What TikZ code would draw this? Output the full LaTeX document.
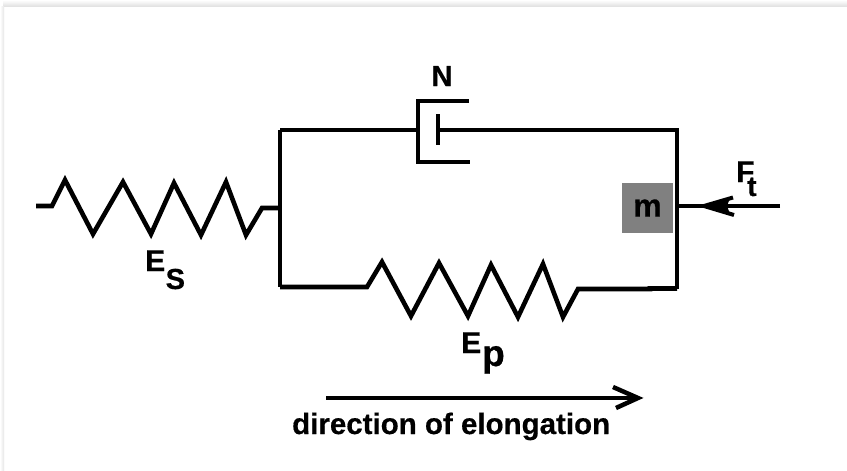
\documentclass[tikz,border=0pt]{standalone}
\usepackage{fontspec}
\setmainfont{Liberation Sans}[BoldFeatures={FakeBold=0.5}]
\newcommand{\fs}[1]{\fontsize{#1}{#1}\selectfont\bfseries}
\tikzset{
  wire/.style={line width=4pt,line join=miter,line cap=butt,black},
  coil/.style={line width=4.6pt,line join=miter,line cap=butt,black},
  lab/.style={inner sep=0pt,anchor=base west,text=black},
}
\begin{document}
\begin{tikzpicture}[x=1pt,y=-1pt]
\useasboundingbox (0,0) rectangle (847,471);
% page edge
\fill[white] (0,0) rectangle (847,471);
\shade[top color=white,bottom color=black!12,draw=none] (3,0) rectangle (847,6.5);
\shade[left color=white,right color=black!10,draw=none] (0,6.5) rectangle (4,471);
% frame corners and junctions
\coordinate (sL) at (36,206);
\coordinate (jL) at (280,208);
\coordinate (tL) at (280,129.5);
\coordinate (bL) at (280,287);
\coordinate (tR) at (677,129.5);
\coordinate (bR) at (677,288.5);
\coordinate (fE) at (780,206);
\coordinate (fW) at (677,206);
\coordinate (fT) at (704,206);
\coordinate (cupJ) at (418,129.5);
\coordinate (pist) at (438,129.5);
% series spring
\draw[coil] (sL) -- (52,206) -- (65,180) -- (93,234) -- (123,182) -- (151,234) -- (174,183) -- (201,235) -- (226,182) -- (246,235) -- (262,208) -- (jL);
% frame
\draw[wire] (tL) -- (jL) -- (bL);
\draw[wire] (tL) -- (cupJ);
\draw[wire] (pist) -- (tR) -- (bR);
% parallel spring
\draw[coil] (bL) -- (367,287) -- (382,262) -- (411,316) -- (439,263) -- (468,316) -- (491,265) -- (518,317) -- (543,264) -- (563,317) -- (578,289) -- (650,289) -- (650,288.5) -- (bR);
% dashpot
\draw[wire] (469,101) -- (418,101) -- (418,162) -- (470,162);
\draw[wire] (438,114) -- (438,144.5);
% force arrow
\draw[wire] (fE) -- (fW);
\fill[black] (fT) -- (730,198) -- (727,206) -- (730,214) -- cycle;
\draw[line width=4pt,black] (733,197.5) -- (fT) -- (734,215);
% mass
\node[fill=black!50,minimum width=51pt,minimum height=50pt,inner sep=0pt,text=black] (m) at (647.5,208) {\raisebox{-1pt}{\fs{32}m}};
% labels
\node[lab,anchor=base] (N) at (442,86) {\fs{29}N};
\node[lab] (Es) at (145,271) {\fs{30}E};
\node[lab] (Ess) at (165.5,289) {\fs{29}S};
\node[lab] (Ep) at (461,353) {\fs{30}E};
\node[lab] (Epp) at (482,366) {\fs{37}p};
\node[lab] (F) at (736,182) {\fs{30}F};
\node[lab] (Ft) at (747,196) {\fs{28}t};
% direction arrow
\coordinate (dA) at (326,398);
\coordinate (dB) at (638,398);
\draw[wire] (dA) -- (dB);
\draw[line width=4.5pt,black,miter limit=10] (613,387) -- (dB) -- (616,408);
\node[lab] (dir) at (292,434) {\fs{29.5}direction of elongation};
\end{tikzpicture}
\end{document}
